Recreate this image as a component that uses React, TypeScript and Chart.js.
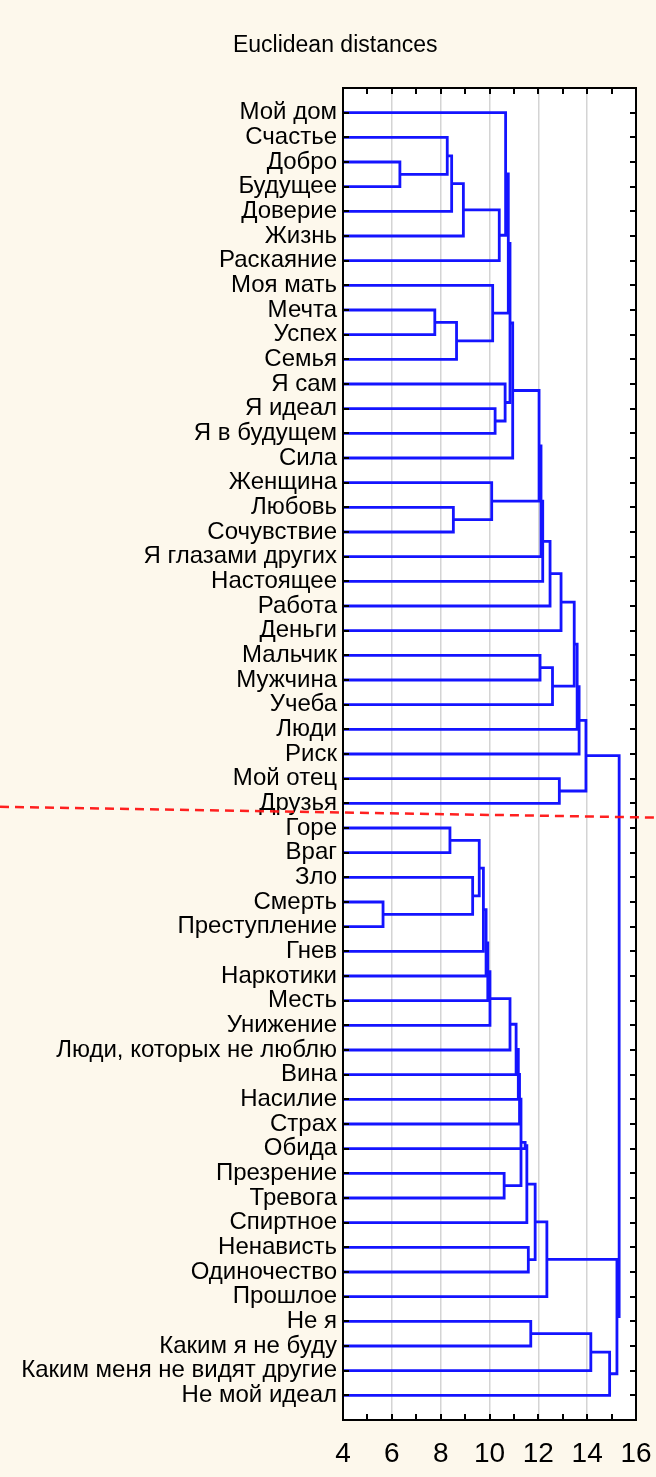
import React, { useEffect, useRef } from 'react';
import { Chart, registerables } from 'chart.js';

Chart.register(...registerables);

const TITLE = 'Euclidean distances';

const LEAVES: string[] = [
  'Мой дом', 'Счастье', 'Добро', 'Будущее', 'Доверие', 'Жизнь', 'Раскаяние',
  'Моя мать', 'Мечта', 'Успех', 'Семья', 'Я сам', 'Я идеал', 'Я в будущем',
  'Сила', 'Женщина', 'Любовь', 'Сочувствие', 'Я глазами других', 'Настоящее',
  'Работа', 'Деньги', 'Мальчик', 'Мужчина', 'Учеба', 'Люди', 'Риск',
  'Мой отец', 'Друзья', 'Горе', 'Враг', 'Зло', 'Смерть', 'Преступление',
  'Гнев', 'Наркотики', 'Месть', 'Унижение', 'Люди, которых не люблю', 'Вина',
  'Насилие', 'Страх', 'Обида', 'Презрение', 'Тревога', 'Спиртное',
  'Ненависть', 'Одиночество', 'Прошлое', 'Не я', 'Каким я не буду',
  'Каким меня не видят другие', 'Не мой идеал',
];

// Linkage: merge k joins LINK_LEFT[k] and LINK_RIGHT[k] (leaf index, or 53 + earlier merge index)
const LINK_LEFT: number[] = [
  2, 1, 54, 55, 56, 0, 8, 59, 7, 58, 12, 11, 62, 65, 16, 15, 66, 69, 70, 71,
  72, 22, 74, 73, 76, 77, 27, 78,
  29, 32, 31, 81, 84, 85, 86, 87, 88, 89, 90, 91, 43, 92, 94, 95, 46, 96, 98,
  49, 100, 101, 99, 80,
];
const LINK_RIGHT: number[] = [
  3, 53, 4, 5, 6, 57, 9, 10, 60, 61, 13, 63, 64, 14, 17, 67, 68, 18, 19, 20,
  21, 23, 24, 75, 25, 26, 28, 79,
  30, 33, 82, 83, 34, 35, 36, 37, 38, 39, 40, 41, 44, 93, 42, 45, 47, 97, 48,
  50, 51, 52, 102, 103,
];
const LINK_HEIGHT: number[] = [
  6.33, 8.27, 8.45, 8.93, 10.40, 10.66, 7.76, 8.65, 10.13, 10.77, 10.23, 10.64,
  10.84, 10.95, 8.52, 10.09, 12.03, 12.11, 12.18, 12.48, 12.93, 12.07, 12.58,
  13.47, 13.59, 13.67, 12.86, 13.95,
  8.38, 5.64, 9.31, 9.58, 9.75, 9.86, 9.93, 10.02, 10.84, 11.09, 11.18, 11.23,
  10.60, 11.29, 11.46, 11.53, 11.59, 11.87, 12.35, 11.69, 14.15, 14.92, 15.22,
  15.31,
];

const X_MIN = 4;
const X_MAX = 16;
const X_LABELS: number[] = [4, 6, 8, 10, 12, 14, 16];
const X_GRID: number[] = [6, 8, 10, 12, 14];
// red cut line, in leaf positions at the left and right edges of the picture
const CUT_LINE: number[] = [28.14, 28.58];

const BLUE = '#1414ff';
const BG = '#fdf8ec';
const FONT = '"Liberation Sans", Arial, sans-serif';

function buildLinks() {
  const pos: number[] = LEAVES.map((_, i) => i);
  const hgt: number[] = LEAVES.map(() => 0);
  const segs: { x: number; y: number }[][] = [];
  LINK_LEFT.forEach((a, k) => {
    const b = LINK_RIGHT[k];
    const h = LINK_HEIGHT[k];
    segs.push([
      { x: hgt[a], y: pos[a] },
      { x: h, y: pos[a] },
      { x: h, y: pos[b] },
      { x: hgt[b], y: pos[b] },
    ]);
    pos.push((pos[a] + pos[b]) / 2);
    hgt.push(h);
  });
  return segs;
}

const framePlugin = {
  id: 'frame',
  beforeDraw(chart: any) {
    const { ctx, chartArea: ca, width, height } = chart;
    ctx.save();
    ctx.fillStyle = BG;
    ctx.fillRect(0, 0, width, height);
    ctx.fillStyle = '#ffffff';
    ctx.fillRect(ca.left, ca.top, ca.right - ca.left, ca.bottom - ca.top);
    ctx.restore();
  },
  afterDraw(chart: any) {
    const { ctx, chartArea: ca, width, scales } = chart;
    const xs = scales.x;
    const ys = scales.y;
    ctx.save();
    // inner ticks
    ctx.strokeStyle = '#000';
    ctx.lineWidth = 2;
    ctx.beginPath();
    for (let v = X_MIN; v <= X_MAX; v++) {
      const px = Math.round(xs.getPixelForValue(v));
      ctx.moveTo(px, ca.top);
      ctx.lineTo(px, ca.top + 6);
      ctx.moveTo(px, ca.bottom);
      ctx.lineTo(px, ca.bottom - 6);
    }
    LEAVES.forEach((_, i) => {
      const py = Math.round(ys.getPixelForValue(i));
      ctx.moveTo(ca.left, py);
      ctx.lineTo(ca.left + 6, py);
      ctx.moveTo(ca.right, py);
      ctx.lineTo(ca.right - 6, py);
    });
    ctx.stroke();
    // box
    ctx.lineWidth = 2;
    ctx.strokeRect(ca.left, ca.top, ca.right - ca.left, ca.bottom - ca.top);
    // title
    ctx.fillStyle = '#000';
    ctx.font = `23px ${FONT}`;
    ctx.textAlign = 'center';
    ctx.textBaseline = 'middle';
    ctx.fillText(TITLE, width * 0.511, 46);
    // red dashed cut line
    ctx.strokeStyle = 'rgba(255,20,20,0.95)';
    ctx.lineWidth = 2.5;
    ctx.setLineDash([9, 6]);
    ctx.beginPath();
    ctx.moveTo(0, ys.getPixelForValue(CUT_LINE[0]));
    ctx.lineTo(width, ys.getPixelForValue(CUT_LINE[1]));
    ctx.stroke();
    ctx.restore();
  },
};

export default function App() {
  const ref = useRef<HTMLCanvasElement | null>(null);
  useEffect(() => {
    document.body.style.margin = '0';
    document.body.style.overflow = 'hidden';
    const canvas = ref.current!;
    const links = buildLinks();
    const chart = new Chart(canvas, {
      type: 'scatter',
      data: {
        datasets: links.map((pts) => ({
          data: pts,
          showLine: true,
          borderColor: BLUE,
          borderWidth: 2.8,
          pointRadius: 0,
          pointHoverRadius: 0,
          tension: 0,
          fill: false,
        })),
      },
      options: {
        animation: false,
        responsive: false,
        devicePixelRatio: 1,
        events: [],
        layout: { padding: { top: 88, right: 20, left: 0, bottom: 0 } },
        plugins: {
          legend: { display: false },
          tooltip: { enabled: false },
          title: { display: false },
        },
        scales: {
          x: {
            type: 'linear',
            min: X_MIN,
            max: X_MAX,
            afterFit: (s: any) => {
              s.height = 57;
              s.paddingLeft = 0;
              s.paddingRight = 0;
            },
            border: { display: false },
            grid: {
              drawTicks: false,
              lineWidth: 1.5,
              color: (c: any) => (X_GRID.includes(c.tick?.value) ? '#d4d4d4' : 'rgba(0,0,0,0)'),
            },
            ticks: {
              stepSize: 1,
              autoSkip: false,
              maxRotation: 0,
              padding: 17,
              color: '#000',
              font: { family: FONT, size: 28 },
              callback: (v: any) => (X_LABELS.includes(Number(v)) ? String(v) : ''),
            },
          },
          y: {
            type: 'linear',
            min: -1,
            max: LEAVES.length,
            reverse: true,
            afterFit: (s: any) => {
              s.width = 343;
              s.paddingTop = 0;
              s.paddingBottom = 0;
            },
            border: { display: false },
            grid: { display: false, drawTicks: false },
            ticks: {
              stepSize: 1,
              autoSkip: false,
              padding: 6,
              color: '#000',
              font: { family: FONT, size: 24 },
              callback: (v: any) => LEAVES[Number(v)] ?? '',
            },
          },
        },
      },
      plugins: [framePlugin],
    });
    return () => chart.destroy();
  }, []);
  return <canvas ref={ref} width={656} height={1477} style={{ display: 'block' }} />;
}
